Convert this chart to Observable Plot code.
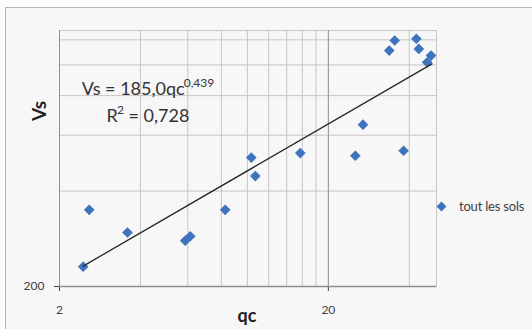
<!DOCTYPE html>
<html><head><meta charset="utf-8">
<script src="https://cdn.jsdelivr.net/npm/d3@7"></script>
<script src="https://cdn.jsdelivr.net/npm/@observablehq/plot@0.6"></script>
<style>
html,body{margin:0;padding:0;background:#fcfcfc;}
#wrap{position:relative;width:532px;height:329px;overflow:hidden;font-family:Lato,"Open Sans",sans-serif;color:#404040;}
#frame{position:absolute;left:5px;top:7px;width:600px;height:400px;border:1.5px solid #b4b4b4;background:#f7f7f7;box-sizing:border-box;}
#chart{position:absolute;left:0;top:0;}
.ov{position:absolute;white-space:nowrap;}
#eq{left:48px;top:79px;width:200px;text-align:center;font-size:18px;line-height:18px;color:#333;}
#r2{left:48px;top:106px;width:200px;text-align:center;font-size:18px;line-height:18px;color:#333;}
sup{font-size:12px;vertical-align:0;position:relative;top:-8px;margin-left:-1px;}
#ylab{left:38px;top:111px;font-weight:bold;font-size:19px;color:#222;transform:translate(-50%,-50%) rotate(-90deg);}
#xlab{left:247px;top:315px;font-weight:bold;font-size:18px;color:#222;transform:translate(-50%,-50%);}
#leg{left:436px;top:197px;font-size:13px;line-height:18px;display:flex;align-items:center;letter-spacing:-0.2px;}
#leg .sw{width:7px;height:7px;background:#3e73bd;transform:rotate(45deg);margin:0 14px 0 2px;}
</style>
</head><body>
<div id="wrap">
  <div id="frame"></div>
  <div id="chart"></div>
  <div class="ov" id="eq">Vs = 185,0qc<sup>0,439</sup></div>
  <div class="ov" id="r2">R<sup>2</sup> = 0,728</div>
  <div class="ov" id="ylab">Vs</div>
  <div class="ov" id="xlab">qc</div>
  <div class="ov" id="leg"><span class="sw"></span><span id="legtxt"></span></div>
</div>
<script>
// Data
const qc = [2.45, 2.58, 3.58, 5.87, 6.13, 8.27, 10.34, 10.70, 15.73, 25.2, 26.9, 33.7, 35.3, 38.1, 42.5, 43.4, 46.6, 48.2];
const vs = [231, 349, 296, 279, 288, 349, 510, 446, 527, 517, 648, 1110, 1194, 536, 1209, 1123, 1019, 1070];
const trendQc = [2.45, 48.6];
const trendVs = [232, 1008];
const xTicks = [2, 20];
const yTicks = [200];
const xMinorGrid = [4, 6, 8, 10, 12, 14, 16, 18, 40];
const xMajorGrid = [20];
const yGrid = [400, 600, 800, 1000, 1200];
const xDomain = [2, 50.5];
const yDomain = [200, 1284];
const seriesName = "tout les sols";

const points = qc.map((q, i) => ({qc: q, vs: vs[i]}));
const trend = trendQc.map((q, i) => ({qc: q, vs: trendVs[i]}));

const chart = Plot.plot({
  width: 532,
  height: 329,
  marginLeft: 59,
  marginRight: 96,
  marginTop: 30,
  marginBottom: 43,
  style: {background: "transparent", fontFamily: "Lato, sans-serif", fontSize: "12px", color: "#404040"},
  x: {type: "log", domain: xDomain, ticks: xTicks, tickFormat: d => String(d), tickSize: 5, tickPadding: 14, label: null},
  y: {type: "log", domain: yDomain, ticks: yTicks, tickFormat: d => String(d), tickSize: 5, tickPadding: 10, label: null},
  marks: [
    Plot.frame({stroke: "#c6c6c6"}),
    Plot.ruleX(xMinorGrid, {stroke: "#c6c6c6"}),
    Plot.ruleY(yGrid, {stroke: "#c6c6c6"}),
    Plot.ruleX(xMajorGrid, {stroke: "#8e8e8e"}),
    Plot.ruleX([xDomain[0]], {stroke: "#8e8e8e"}),
    Plot.ruleY([yDomain[0]], {stroke: "#8e8e8e", strokeWidth: 1.5}),
    Plot.dot(points, {x: "qc", y: "vs", symbol: "diamond2", r: 4.8, fill: "#3e73bd", stroke: "none"}),
    Plot.line(trend, {x: "qc", y: "vs", stroke: "#262626", strokeWidth: 1.3})
  ]
});
document.getElementById("chart").appendChild(chart);
document.getElementById("legtxt").textContent = seriesName;
</script>
</body></html>
